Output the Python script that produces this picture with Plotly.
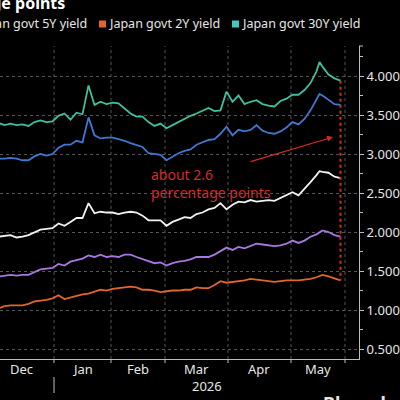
import pandas as pd
import plotly.graph_objects as go

# ---------------- data ----------------
holidays = ["2025-12-31", "2026-01-01", "2026-01-02", "2026-01-12", "2026-02-11",
            "2026-02-23", "2026-03-20", "2026-04-29", "2026-05-04", "2026-05-05", "2026-05-06"]
trading_days = [d for d in pd.bdate_range("2025-12-01", "2026-05-29")
                if d.strftime("%Y-%m-%d") not in holidays]

# trading-day positions of the sampled observations
sample_idx = [3, 5, 7, 9, 11, 13, 15, 17, 19, 21, 23, 25, 27, 29, 31, 33, 35, 37, 39, 41,
              43, 45, 47, 49, 51, 53, 55, 57, 59, 61, 63, 65, 67, 69, 71, 73, 75, 77, 79, 81,
              83, 85, 87, 89, 91, 93, 95, 97, 99, 101, 103, 105, 107, 109, 110, 111, 113, 115, 117]
sample_dates = [trading_days[i].strftime("%Y-%m-%d") for i in sample_idx]

y30 = [3.40, 3.37, 3.39, 3.37, 3.38, 3.36, 3.41, 3.43, 3.41, 3.42, 3.49, 3.52, 3.44, 3.53, 3.51,
       3.88, 3.63, 3.67, 3.64, 3.66, 3.65, 3.59, 3.52, 3.48, 3.48, 3.41, 3.36, 3.39, 3.33, 3.37,
       3.41, 3.46, 3.49, 3.52, 3.56, 3.59, 3.55, 3.56, 3.80, 3.67, 3.75, 3.64, 3.67, 3.69, 3.64,
       3.62, 3.61, 3.68, 3.71, 3.76, 3.76, 3.82, 3.91, 4.06, 4.18, 4.12, 4.02, 3.97, 3.94]
y20 = [2.94, 2.94, 2.95, 2.94, 2.92, 2.92, 2.97, 3.00, 2.98, 3.00, 3.08, 3.12, 3.12, 3.17, 3.15,
       3.47, 3.24, 3.20, 3.21, 3.21, 3.19, 3.17, 3.14, 3.11, 3.09, 3.01, 3.00, 2.99, 2.92, 2.97,
       3.01, 3.04, 3.06, 3.12, 3.15, 3.18, 3.19, 3.26, 3.35, 3.24, 3.31, 3.29, 3.31, 3.37, 3.30,
       3.27, 3.26, 3.29, 3.34, 3.41, 3.38, 3.45, 3.56, 3.69, 3.77, 3.75, 3.69, 3.64, 3.63]
y10 = [1.94, 1.95, 1.96, 1.93, 1.94, 1.96, 2.00, 2.03, 2.04, 2.05, 2.11, 2.08, 2.13, 2.18, 2.18,
       2.37, 2.24, 2.26, 2.25, 2.25, 2.23, 2.25, 2.26, 2.25, 2.21, 2.15, 2.15, 2.15, 2.08, 2.13,
       2.16, 2.19, 2.18, 2.23, 2.25, 2.29, 2.31, 2.37, 2.29, 2.35, 2.39, 2.38, 2.41, 2.39, 2.40,
       2.41, 2.40, 2.44, 2.48, 2.51, 2.47, 2.55, 2.64, 2.73, 2.78, 2.77, 2.76, 2.71, 2.69]
y5 = [1.43, 1.44, 1.45, 1.44, 1.45, 1.45, 1.49, 1.52, 1.53, 1.54, 1.59, 1.57, 1.62, 1.64, 1.66,
      1.70, 1.68, 1.71, 1.68, 1.69, 1.68, 1.71, 1.71, 1.68, 1.65, 1.63, 1.60, 1.61, 1.57, 1.60,
      1.62, 1.63, 1.65, 1.68, 1.68, 1.68, 1.71, 1.75, 1.80, 1.77, 1.81, 1.79, 1.82, 1.85, 1.84,
      1.83, 1.82, 1.83, 1.85, 1.89, 1.86, 1.89, 1.94, 1.97, 2.00, 2.02, 2.00, 1.96, 1.94]
y2 = [1.02, 1.05, 1.06, 1.06, 1.06, 1.08, 1.11, 1.12, 1.13, 1.15, 1.19, 1.14, 1.16, 1.18, 1.20,
      1.21, 1.24, 1.26, 1.25, 1.27, 1.28, 1.29, 1.30, 1.29, 1.26, 1.26, 1.25, 1.23, 1.24, 1.25,
      1.25, 1.26, 1.26, 1.29, 1.28, 1.28, 1.32, 1.37, 1.35, 1.36, 1.37, 1.38, 1.40, 1.39, 1.38,
      1.37, 1.36, 1.37, 1.38, 1.38, 1.38, 1.39, 1.40, 1.42, 1.44, 1.45, 1.43, 1.40, 1.38]

y_ticks = [0.5, 1.0, 1.5, 2.0, 2.5, 3.0, 3.5, 4.0]
month_labels = ["Dec", "Jan", "Feb", "Mar", "Apr", "May"]
year_label = "2026"
title_text = "percentage points"
callout_text = "about 2.6<br>percentage points"
source_text = "Bloomberg"

# ---------------- helpers ----------------
pos = {d.strftime("%Y-%m-%d"): i for i, d in enumerate(trading_days)}
x = [pos[d] for d in sample_dates]

months = []
for d in trading_days:
    key = (d.year, d.month)
    if key not in months:
        months.append(key)
bounds = []
centers = []
for key in months:
    ids = [i for i, d in enumerate(trading_days) if (d.year, d.month) == key]
    lo, hi = ids[0] - 0.5, ids[-1] + 0.5
    bounds.append(lo)
    centers.append((lo + hi) / 2)
bounds.append(len(trading_days) - 0.5)
bounds = bounds[1:]

W, H = 400, 400
ML, MR, MT, MB = 0, 41, 46, 41
PW, PH = W - ML - MR, H - MT - MB
X0, X1 = 3.5, 123.17
Y0, Y1 = 0.372, 4.385


def px_to_paper_x(px):
    return (px - ML) / PW


def py_to_paper_y(py):
    return (H - MB - py) / PH


BG = "#000000"
GRID = "#555555"
AXIS = "#bdbdbd"
TXT = "#e6e6e6"
RED = "#d42b2b"
FONT = "Noto Sans"

C30, C30SQ = "#3fbf9f", "#45c8c4"
C20 = "#3f78d0"
C10 = "#f2f2f2"
C5 = "#a878e0"
C2 = "#e2662a"

fig = go.Figure()
for ys, col, name in [(y2, C2, "Japan govt 2Y yield"), (y5, C5, "Japan govt 5Y yield"),
                      (y10, C10, "Japan govt 10Y yield"), (y20, C20, "Japan govt 20Y yield"),
                      (y30, C30, "Japan govt 30Y yield")]:
    fig.add_trace(go.Scatter(x=x, y=ys, mode="lines", name=name,
                             line=dict(color=col, width=1.8), showlegend=False))

# red dotted spread marker between 30Y and 2Y at the last observation
fig.add_trace(go.Scatter(x=[x[-1], x[-1]], y=[y30[-1], y2[-1]], mode="lines",
                         line=dict(color=RED, width=2, dash="dot"), showlegend=False))

fig.update_layout(
    width=W, height=H, margin=dict(l=ML, r=MR, t=MT, b=MB, autoexpand=False),
    paper_bgcolor=BG, plot_bgcolor=BG, showlegend=False,
    font=dict(family=FONT, color=TXT, size=13),
)
fig.update_xaxes(
    range=[X0, X1], showline=True, linecolor=AXIS, linewidth=1, zeroline=False,
    showticklabels=False, ticks="", showgrid=False, automargin=False,
)
fig.update_yaxes(
    range=[Y0, Y1], side="right", showline=True, linecolor=AXIS, linewidth=1, zeroline=False,
    tickmode="array", tickvals=y_ticks, tickformat=".3f", ticks="outside", ticklen=4,
    tickcolor=AXIS, showgrid=True, gridcolor=GRID, griddash="dot", gridwidth=1,
    tickfont=dict(size=13, color=TXT, family=FONT), automargin=False,
    minor=dict(dtick=0.25, tick0=0.25, ticks="outside", ticklen=3, tickcolor=AXIS, showgrid=False),
)

shapes = []
# vertical month gridlines and ticks
for b in bounds:
    shapes.append(dict(type="line", xref="x", yref="paper", x0=b, x1=b, y0=0, y1=1,
                       layer="below", line=dict(color=GRID, width=1, dash="dot")))
    shapes.append(dict(type="line", xref="x", yref="paper", x0=b, x1=b,
                       y0=0, y1=py_to_paper_y(363), line=dict(color=AXIS, width=1)))
# year separator below the Jan boundary
shapes.append(dict(type="line", xref="x", yref="paper", x0=bounds[0], x1=bounds[0],
                   y0=py_to_paper_y(377), y1=py_to_paper_y(393),
                   line=dict(color=AXIS, width=1)))
# cap at top of y axis
shapes.append(dict(type="line", xref="paper", yref="paper", x0=1, x1=px_to_paper_x(363),
                   y0=1, y1=1, line=dict(color=AXIS, width=1)))

annotations = []
# month labels centred in each month
for c, lab in zip(centers, month_labels):
    annotations.append(dict(text=lab, xref="x", yref="paper", x=c, y=py_to_paper_y(369),
                            xanchor="center", yanchor="middle", showarrow=False,
                            font=dict(size=13, color=TXT, family=FONT)))

# legend (row partly cut off on the left)
legend_items = [(-34, C5, "Japan govt 5Y yield"), (99, C2, "Japan govt 2Y yield"),
                (232, C30SQ, "Japan govt 30Y yield")]
for sx, col, label in legend_items:
    shapes.append(dict(type="rect", xref="paper", yref="paper",
                       x0=px_to_paper_x(sx), x1=px_to_paper_x(sx + 7),
                       y0=py_to_paper_y(27.5), y1=py_to_paper_y(20.5),
                       fillcolor=col, line=dict(width=0)))
    annotations.append(dict(text=label, xref="paper", yref="paper",
                            x=px_to_paper_x(sx + 8), y=py_to_paper_y(24),
                            xanchor="left", yanchor="middle", showarrow=False,
                            font=dict(size=12.5, color=TXT, family=FONT)))

# title (cut off at top-left)
annotations.append(dict(text="<b>" + title_text + "</b>", xref="paper", yref="paper",
                        x=px_to_paper_x(67), y=py_to_paper_y(3), xanchor="right",
                        yanchor="middle", showarrow=False,
                        font=dict(size=16, color="#ffffff", family=FONT)))

# callout text
annotations.append(dict(text=callout_text, xref="x", yref="y", x=(149 + 10.5) / 3,
                        y=4.0 - (183 - 76) / 78, xanchor="left", yanchor="middle",
                        align="left", showarrow=False,
                        font=dict(size=14, color=RED, family=FONT)))
# arrow
annotations.append(dict(text="", xref="x", yref="y", axref="x", ayref="y",
                        x=114.5, y=3.218, ax=86.5, ay=2.897, showarrow=True,
                        arrowhead=2, arrowsize=1, arrowwidth=1.2, arrowcolor=RED))

# year label
annotations.append(dict(text=year_label, xref="x", yref="paper",
                        x=(bounds[0] + X1) / 2, y=py_to_paper_y(386),
                        xanchor="center", yanchor="middle", showarrow=False,
                        font=dict(size=13, color=TXT, family=FONT)))
# source
annotations.append(dict(text="<b>" + source_text + "</b>", xref="paper", yref="paper",
                        x=px_to_paper_x(321), y=py_to_paper_y(389), xanchor="left",
                        yanchor="top", showarrow=False,
                        font=dict(size=18, color=TXT, family=FONT)))

fig.update_layout(shapes=shapes, annotations=annotations)
fig.write_html("out.html")
